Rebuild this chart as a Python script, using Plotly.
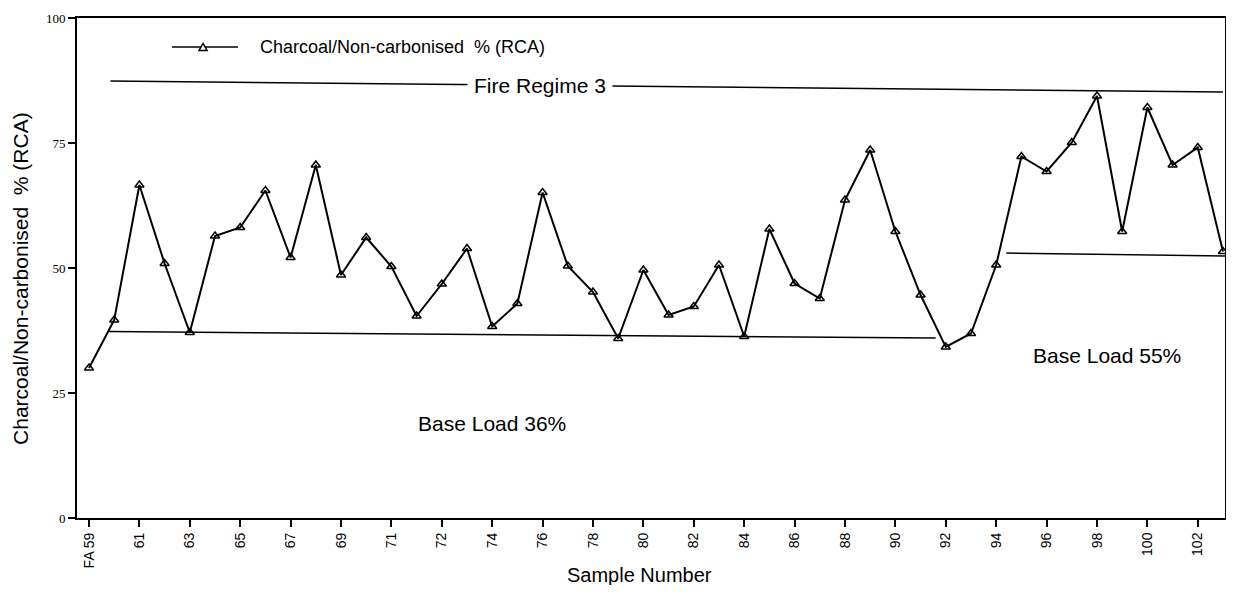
import plotly.graph_objects as go

# ---- data ----
sample_ids = ["FA 59", "60", "61", "62", "63", "64", "65", "66", "67", "68", "69", "70",
              "71", "71A", "72", "73", "74", "75", "76", "77", "78", "79", "80", "81",
              "82", "83", "84", "85", "86", "87", "88", "89", "90", "91", "92", "93",
              "94", "95", "96", "97", "98", "99", "100", "101", "102", "103"]
charcoal_pct = [30.0, 39.6, 66.6, 50.9, 37.1, 56.4, 58.1, 65.5, 52.1, 70.6,
                48.6, 56.1, 50.3, 40.4, 46.8, 53.9, 38.3, 42.9, 65.1, 50.4,
                45.2, 35.9, 49.6, 40.6, 42.3, 50.6, 36.3, 57.8, 46.9, 43.9,
                63.6, 73.6, 57.3, 44.6, 34.2, 36.9, 50.6, 72.3, 69.3, 75.1,
                84.4, 57.3, 82.1, 70.6, 74.1, 53.3]
tick_labels = ["FA 59", "61", "63", "65", "67", "69", "71", "72", "74", "76", "78",
               "80", "82", "84", "86", "88", "90", "92", "94", "96", "98", "100", "102"]
y_ticks = [0, 25, 50, 75, 100]
series_name = "Charcoal/Non-carbonised  % (RCA)"

# reference lines (sample-index positions, % values)
fire_regime_x = [0.85, 45.0]
fire_regime_y = [87.4, 85.2]
base36_x = [0.8, 33.6]
base36_y = [37.3, 36.0]
base55_x = [36.4, 45.1]
base55_y = [53.0, 52.4]

SANS = "Liberation Sans, Arial, sans-serif"
SERIF = "Liberation Serif, Times New Roman, serif"

fig = go.Figure()
fig.add_trace(go.Scatter(
    x=sample_ids, y=charcoal_pct, mode="lines+markers",
    name=series_name, showlegend=False, cliponaxis=False,
    line=dict(color="black", width=2),
    marker=dict(symbol="triangle-up-open", size=8, color="black", line=dict(width=1.5, color="black")),
))

for xs, ys in [(fire_regime_x, fire_regime_y), (base36_x, base36_y), (base55_x, base55_y)]:
    fig.add_shape(type="line", xref="x", yref="y", x0=xs[0], x1=xs[1], y0=ys[0], y1=ys[1],
                  line=dict(color="black", width=1.5), layer="below")

fig.add_annotation(x=17.9, y=86.6, xref="x", yref="y", text="Fire Regime 3", showarrow=False,
                   bgcolor="white", borderpad=6, font=dict(family=SANS, size=21, color="black"))
fig.add_annotation(x=16.0, y=19.0, xref="x", yref="y", text="Base Load 36%", showarrow=False,
                   font=dict(family=SANS, size=21, color="black"))
fig.add_annotation(x=40.4, y=32.6, xref="x", yref="y", text="Base Load 55%", showarrow=False,
                   font=dict(family=SANS, size=21, color="black"))

# legend key drawn like the original (paper coordinates)
lg_y = 0.942
fig.add_shape(type="line", xref="paper", yref="paper", x0=0.0828, x1=0.1402, y0=lg_y, y1=lg_y,
              line=dict(color="black", width=1.5))
mx, hw, hh = 0.1098, 0.0035, 0.007
fig.add_shape(type="path", xref="paper", yref="paper",
              path=f"M {mx-hw},{lg_y-hh} L {mx+hw},{lg_y-hh} L {mx},{lg_y+hh} Z",
              fillcolor="white", line=dict(color="black", width=1.5))
fig.add_annotation(x=0.1577, y=lg_y, xref="paper", yref="paper", text=series_name,
                   xanchor="left", yanchor="middle", showarrow=False,
                   font=dict(family=SANS, size=18, color="black"))

# axis titles
fig.add_annotation(x=0.4904, y=-0.114, xref="paper", yref="paper", text="Sample Number",
                   xanchor="center", yanchor="middle",
                   showarrow=False, font=dict(family=SANS, size=20, color="black"))
fig.add_annotation(x=-0.0497, y=0.48, xref="paper", yref="paper",
                   text=series_name, textangle=-90, xanchor="center", yanchor="middle",
                   showarrow=False, font=dict(family=SANS, size=21, color="black"))

fig.update_layout(
    width=1218, height=577,
    margin=dict(l=69, r=1, t=10, b=67, pad=0),
    plot_bgcolor="white", paper_bgcolor="white",
    showlegend=False,
    xaxis=dict(type="category", range=[-0.476, 45.08], tickmode="array",
               tickvals=tick_labels, ticktext=tick_labels, tickangle=-90,
               ticks="outside", ticklen=7, tickwidth=2, tickcolor="black",
               showline=True, linecolor="black", linewidth=2, mirror=True,
               showgrid=False, zeroline=False, automargin=False,
               tickfont=dict(family=SANS, size=14, color="black")),
    yaxis=dict(range=[0, 100], tickmode="array", tickvals=y_ticks,
               ticks="outside", ticklen=7, tickwidth=2, tickcolor="black",
               showline=True, linecolor="black", linewidth=2, mirror=True,
               showgrid=False, zeroline=False, automargin=False,
               tickfont=dict(family=SERIF, size=13, color="black")),
)

fig.write_html("out.html")
